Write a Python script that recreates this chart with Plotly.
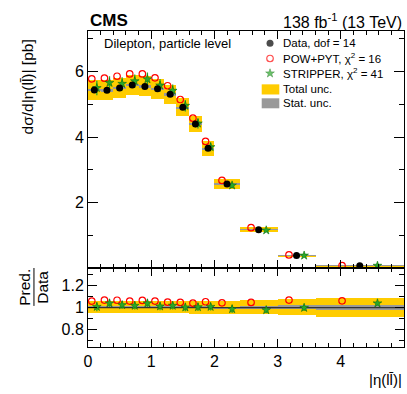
import plotly.graph_objects as go

# bin edges in |eta(ll)|
edges = [0.0, 0.2, 0.4, 0.6, 0.8, 1.0, 1.2, 1.4, 1.6, 1.8, 2.0, 2.4, 3.0, 3.6, 5.0]

# measured cross section [pb]
data = [5.44, 5.43, 5.50, 5.59, 5.55, 5.48, 5.31, 4.91, 4.40, 3.66, 2.57, 1.18, 0.39, 0.077]
tot_rel = [0.055, 0.056, 0.055, 0.055, 0.055, 0.055, 0.055, 0.056, 0.057, 0.060, 0.062, 0.065, 0.072, 0.088]
stat_rel = [0.005, 0.005, 0.005, 0.005, 0.005, 0.005, 0.005, 0.005, 0.006, 0.006, 0.007, 0.009, 0.017, 0.025]

# predictions
powpyt = [5.78, 5.80, 5.86, 5.93, 5.93, 5.81, 5.57, 5.15, 4.58, 3.87, 2.68, 1.24, 0.41, 0.08]
stripper = [5.50, 5.66, 5.63, 5.71, 5.77, 5.58, 5.42, 4.96, 4.42, 3.70, 2.53, 1.16, 0.39, 0.08]
stripper_rel = [0.04, 0.035, 0.035, 0.035, 0.035, 0.035, 0.035, 0.035, 0.035, 0.035, 0.035, 0.03, 0.03, 0.02]

# ratios pred / data
r_powpyt = [1.060, 1.069, 1.068, 1.060, 1.066, 1.060, 1.050, 1.048, 1.041, 1.054, 1.044, 1.048, 1.069, 1.063]
r_stripper = [1.008, 1.040, 1.024, 1.018, 1.040, 1.012, 1.018, 1.003, 1.005, 1.008, 0.987, 0.978, 0.999, 1.040]

legend_labels = ["Data, dof = 14", "POW+PYT, χ<sup>2</sup> = 16", "STRIPPER, χ<sup>2</sup> = 41",
                 "Total unc.", "Stat. unc."]

centers = [(a + b) / 2 for a, b in zip(edges[:-1], edges[1:])]
widths = [b - a for a, b in zip(edges[:-1], edges[1:])]
x_pow = [c - 0.2 * w for c, w in zip(centers, widths)]
x_str = [c + 0.2 * w for c, w in zip(centers, widths)]

FONT = "Liberation Sans, Arial, sans-serif"
YEL = "#ffcc00"
GRAY = "#999999"
RED = "#ff0000"
GREEN = "#2aa82a"
DKGREEN = "#0a6e0a"

fig = go.Figure()

# ---- top panel
fig.add_trace(go.Bar(x=centers, width=widths,
                     base=[d * (1 - e) for d, e in zip(data, tot_rel)],
                     y=[2 * d * e for d, e in zip(data, tot_rel)],
                     marker=dict(color=YEL, line=dict(width=0)), xaxis="x", yaxis="y"))
fig.add_trace(go.Bar(x=centers, width=widths,
                     base=[d * (1 - e) for d, e in zip(data, stat_rel)],
                     y=[2 * d * e for d, e in zip(data, stat_rel)],
                     marker=dict(color=GRAY, line=dict(width=0)), xaxis="x", yaxis="y"))
fig.add_trace(go.Scatter(x=x_pow, y=powpyt, mode="markers",
                         marker=dict(symbol="circle-open", size=6.5, color=RED, line=dict(width=1.2)),
                         xaxis="x", yaxis="y"))
fig.add_trace(go.Scatter(x=x_str, y=stripper, mode="markers",
                         error_y=dict(type="data", array=[s * e for s, e in zip(stripper, stripper_rel)],
                                      color=GREEN, thickness=1.3, width=0),
                         marker=dict(symbol="star", size=6.5, color=GREEN, line=dict(width=0.6, color=DKGREEN)),
                         xaxis="x", yaxis="y"))
fig.add_trace(go.Scatter(x=centers, y=data, mode="markers",
                         marker=dict(symbol="circle", size=7, color="black"),
                         xaxis="x", yaxis="y"))

# ---- ratio panel
fig.add_trace(go.Bar(x=centers, width=widths,
                     base=[1 - e for e in tot_rel], y=[2 * e for e in tot_rel],
                     marker=dict(color=YEL, line=dict(width=0)), xaxis="x2", yaxis="y2"))
fig.add_trace(go.Bar(x=centers, width=widths,
                     base=[1 - e for e in stat_rel], y=[2 * e for e in stat_rel],
                     marker=dict(color=GRAY, line=dict(width=0)), xaxis="x2", yaxis="y2"))
fig.add_trace(go.Scatter(x=[edges[0], edges[-1]], y=[1, 1], mode="lines",
                         line=dict(color="#333333", width=1.2), xaxis="x2", yaxis="y2"))
fig.add_trace(go.Scatter(x=x_pow, y=r_powpyt, mode="markers",
                         marker=dict(symbol="circle-open", size=6.5, color=RED, line=dict(width=1.2)),
                         xaxis="x2", yaxis="y2"))
fig.add_trace(go.Scatter(x=x_str, y=r_stripper, mode="markers",
                         error_y=dict(type="data", array=stripper_rel, color=GREEN, thickness=1.3, width=0),
                         marker=dict(symbol="star", size=6.5, color=GREEN, line=dict(width=0.6, color=DKGREEN)),
                         xaxis="x2", yaxis="y2"))

# ---- legend keys (overlay axis in paper-like units)
fig.add_trace(go.Scatter(x=[0.576, 0.576, 0.576], y=[0.961, 0.913, 0.866], mode="markers",
                         marker=dict(symbol=["circle", "circle-open", "star"], size=[7, 6.5, 6.5],
                                     color=["black", RED, GREEN],
                                     line=dict(width=[0, 1.2, 0.6], color=["black", RED, DKGREEN])),
                         xaxis="x3", yaxis="y3"))

axis_common = dict(showline=True, linecolor="black", linewidth=1, mirror="allticks",
                   ticks="inside", tickcolor="black", showgrid=False, zeroline=False,
                   tickfont=dict(family=FONT, size=16, color="black"))

top_dom = 0.249
fig.update_layout(
    width=407, height=394,
    margin=dict(l=88, r=3, t=31, b=47),
    paper_bgcolor="white", plot_bgcolor="rgba(0,0,0,0)",
    showlegend=False, barmode="overlay", bargap=0,
    font=dict(family=FONT, color="black"),
    xaxis=dict(domain=[0, 1], range=[0, 5], anchor="y", showticklabels=False,
               dtick=1, ticklen=8, minor=dict(dtick=0.2, ticklen=4, ticks="inside", tickcolor="black"),
               **axis_common),
    yaxis=dict(domain=[top_dom, 1], range=[0, 7.24], anchor="x", tickvals=[2, 4, 6], ticklen=10,
               minor=dict(tickvals=[1, 3, 5, 7], ticklen=5, ticks="inside", tickcolor="black"),
               **axis_common),
    xaxis2=dict(domain=[0, 1], range=[0, 5], anchor="y2", dtick=1, ticklen=8,
                minor=dict(dtick=0.2, ticklen=4, ticks="inside", tickcolor="black"), **axis_common),
    yaxis2=dict(domain=[0, top_dom], range=[0.64, 1.36], anchor="x2", tickvals=[0.8, 1.0, 1.2],
                ticktext=["0.8", "1", "1.2"], ticklen=9,
                minor=dict(tickvals=[0.7, 0.9, 1.1, 1.3], ticklen=5, ticks="inside", tickcolor="black"),
                **axis_common),
    xaxis3=dict(domain=[0, 1], range=[0, 1], anchor="y3", visible=False, fixedrange=True),
    yaxis3=dict(domain=[0, 1], range=[0, 1], anchor="x3", visible=False, fixedrange=True),
)

shapes = [
    dict(type="rect", xref="paper", yref="paper", x0=0.5497, x1=0.6054, y0=0.7991, y1=0.8312,
         fillcolor=YEL, line=dict(width=0)),
    dict(type="rect", xref="paper", yref="paper", x0=0.5497, x1=0.6054, y0=0.7554, y1=0.787,
         fillcolor=GRAY, line=dict(width=0)),
    dict(type="line", xref="paper", yref="paper", x0=-0.171, x1=-0.171, y0=0.13, y1=0.25,
         line=dict(color="black", width=1)),
]
fig.update_layout(shapes=shapes)

ann = [
    dict(text="<b>CMS</b>", x=0, y=1.033, xanchor="left", yanchor="middle", font=dict(size=17)),
    dict(text="138 fb<sup>-1</sup> (13 TeV)", x=1.0, y=1.033, xanchor="right", yanchor="middle",
         font=dict(size=16)),
    dict(text="Dilepton, particle level", x=0.044, y=0.962, xanchor="left", yanchor="middle",
         font=dict(size=13)),
    dict(text="dσ/d|η(ll̄)| [pb]", x=-0.193, y=0.978, xanchor="center", yanchor="top", textangle=-90,
         font=dict(size=15.5)),
    dict(text="Pred.", x=-0.2, y=0.19, xanchor="center", yanchor="middle", textangle=-90,
         font=dict(size=15.5)),
    dict(text="Data", x=-0.143, y=0.19, xanchor="center", yanchor="middle", textangle=-90,
         font=dict(size=15.5)),
    dict(text="|η(ll̄)|", x=1.0, y=-0.104, xanchor="right", yanchor="middle", font=dict(size=15)),
]
for lbl, yy in zip(legend_labels, [0.961, 0.913, 0.866, 0.818, 0.772]):
    ann.append(dict(text=lbl, x=0.61, y=yy, xanchor="left", yanchor="middle", font=dict(size=11.5)))
for a in ann:
    a.update(xref="paper", yref="paper", showarrow=False)
fig.update_layout(annotations=ann)

fig.write_html("out.html", config={"displayModeBar": False},
               post_script="document.body.style.margin='0';")
